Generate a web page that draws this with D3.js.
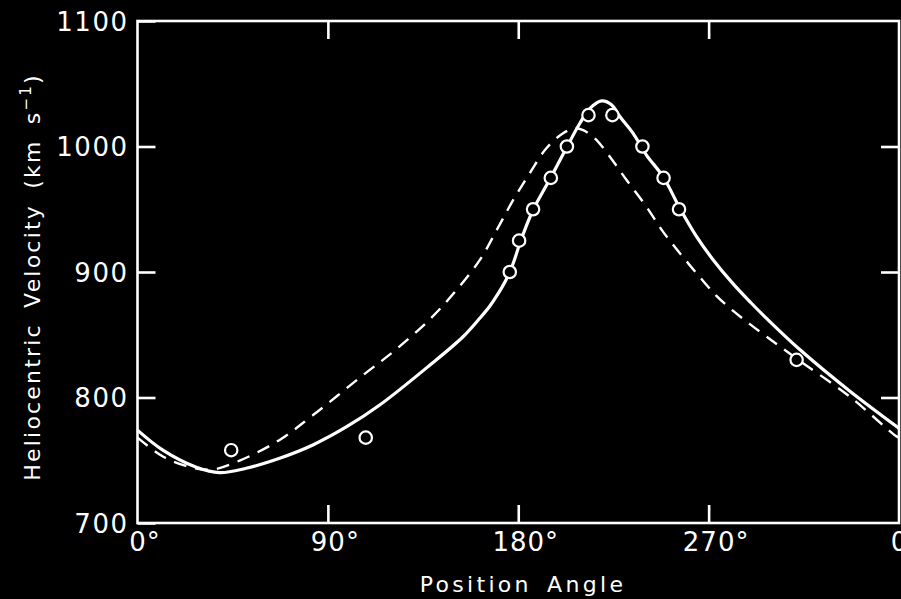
<!DOCTYPE html>
<html>
<head>
<meta charset="utf-8">
<script src="https://cdn.jsdelivr.net/npm/d3@7"></script>
<style>
  html, body { margin: 0; padding: 0; background: #000; }
  svg { display: block; }
  text { font-family: "DejaVu Sans", sans-serif; fill: #fff; }
</style>
</head>
<body>
<svg id="chart" width="901" height="599"></svg>
<script>
// Observed heliocentric velocities against position angle
const obsAngle    = [44.3, 107.9, 176, 180.4, 187, 195.4, 203, 213.2, 224.5, 238.7, 248.7, 256, 311.6];
const obsVelocity = [758, 768, 900, 925, 950, 975, 1000, 1025, 1025, 1000, 975, 950, 830];

// Model curve 1 (solid)
const solidAngle = [0, 12, 27.8, 38.8, 51.4, 67.2, 82.9, 98.7, 114.5, 138, 153.9, 161.9, 166.6, 170.4,
  174.2, 177.5, 181.3, 187, 195.5, 203, 209.2, 213.9, 219.4, 224.2, 228.1, 234.3, 240.6, 248.5, 256.4, 264, 272,
  281.6, 290, 297.4, 313.2, 336.8, 360];
const solidVelocity = [774, 758, 744.4, 740.1, 743.6, 751.6, 762.2, 776.5, 794, 825.5, 848.4, 863.3, 872.9, 882.5,
  893.6, 906.4, 925.5, 949.4, 975.7, 999.6, 1018.7, 1030.3, 1036.3, 1033.1, 1023.7, 1010.5, 993.2, 975.9, 950.8, 929, 910,
  890.5, 875.5, 863, 838, 805, 775.5];

// Model curve 2 (dashed)
const dashAngle = [0, 12, 24, 35, 48, 67, 83, 106, 122, 138, 150, 162, 170, 177.5, 185.4, 193.3, 201.2,
  206.7, 210.7, 216.2, 223.3, 231.2, 240.6, 248.5, 256.4, 265.8, 273.7, 281.6, 289.5, 297.4, 311.6, 336.8, 358, 360];
const dashVelocity = [768, 753, 745, 742.5, 749.5, 766, 786, 817, 838, 862, 884, 910, 934, 957, 978.6, 998.6, 1010.5,
  1014.5, 1013, 1006.5, 991.9, 973.3, 952, 932, 915, 896, 881, 869, 858.5, 848.5, 831, 800.6, 770, 768];

// Axis ticks
const xTicks = [0, 90, 180, 270, 360];
const xTickLabels = ["0", "90", "180", "270", "0"];
const yTicks = [700, 800, 900, 1000, 1100];

const svg = d3.select("#chart");
const W = 901, H = 599;
svg.append("rect").attr("width", W).attr("height", H).attr("fill", "#000");

const plotL = 137.5, plotR = 899, plotT = 21, plotB = 523;
const x = d3.scaleLinear().domain([0, 360]).range([plotL, plotR]);
const y = d3.scaleLinear().domain([700, 1100]).range([plotB, plotT]);

const white = "#fff";
const tickLen = 18;

// Frame
svg.append("rect")
  .attr("x", plotL).attr("y", plotT)
  .attr("width", plotR - plotL).attr("height", plotB - plotT)
  .attr("fill", "none").attr("stroke", white).attr("stroke-width", 2.6);

function styleAxis(g) {
  g.select(".domain").remove();
  g.selectAll(".tick line").attr("stroke", white).attr("stroke-width", 2.6);
}

// Left axis with labels
const yAxisL = svg.append("g")
  .attr("transform", `translate(${plotL},0)`)
  .call(d3.axisLeft(y).tickValues(yTicks).tickSizeInner(-tickLen).tickSizeOuter(0).tickPadding(9)
    .tickFormat(d3.format("d")));
styleAxis(yAxisL);
yAxisL.selectAll(".tick text")
  .attr("font-size", 26).attr("letter-spacing", 1.5).attr("dy", "0.36em")
  .attr("font-family", "DejaVu Sans");

// Right axis ticks
const yAxisR = svg.append("g")
  .attr("transform", `translate(${plotR},0)`)
  .call(d3.axisRight(y).tickValues([800, 900, 1000]).tickSizeInner(-tickLen).tickSizeOuter(0).tickFormat(""));
styleAxis(yAxisR);

// Bottom axis with degree labels (the 360° end repeats as 0°)
const xAxisB = svg.append("g")
  .attr("transform", `translate(0,${plotB})`)
  .call(d3.axisBottom(x).tickValues(xTicks).tickSizeInner(-tickLen).tickSizeOuter(0).tickPadding(10)
    .tickFormat((d, i) => xTickLabels[i]));
styleAxis(xAxisB);
xAxisB.selectAll(".tick line").filter(d => d === 0 || d === 360).remove();
xAxisB.selectAll(".tick text").each(function () {
  const t = d3.select(this)
    .attr("font-size", 26).attr("letter-spacing", 1)
    .attr("font-family", "DejaVu Sans");
  const num = t.text();
  const w = this.getComputedTextLength();
  t.attr("text-anchor", "start").attr("x", -w / 2).text(num + "°");
});

// Top axis ticks
const xAxisT = svg.append("g")
  .attr("transform", `translate(0,${plotT})`)
  .call(d3.axisTop(x).tickValues([90, 180, 270]).tickSizeInner(-tickLen).tickSizeOuter(0).tickFormat(""));
styleAxis(xAxisT);

// Axis titles
svg.append("text")
  .attr("x", 523).attr("y", 592)
  .attr("text-anchor", "middle")
  .attr("font-size", 22).attr("letter-spacing", 3.3).attr("word-spacing", 5)
  .text("Position Angle");

const yTitle = svg.append("text")
  .attr("transform", "translate(40,277) rotate(-90)")
  .attr("text-anchor", "middle")
  .attr("font-size", 22).attr("letter-spacing", 2.2).attr("word-spacing", 6);
yTitle.append("tspan").text("Heliocentric Velocity (km s");
yTitle.append("tspan").attr("dy", -9).attr("font-size", 15).text("−1");
yTitle.append("tspan").attr("dy", 9).text(")");

// Curves
const line = d3.line().x(d => x(d[0])).y(d => y(d[1])).curve(d3.curveCatmullRom.alpha(0.5));
const plot = svg.append("g");
plot.append("path")
  .datum(dashAngle.map((a, i) => [a, dashVelocity[i]]))
  .attr("d", line).attr("fill", "none").attr("stroke", white)
  .attr("stroke-width", 2.4).attr("stroke-dasharray", "13 9");
plot.append("path")
  .datum(solidAngle.map((a, i) => [a, solidVelocity[i]]))
  .attr("d", line).attr("fill", "none").attr("stroke", white)
  .attr("stroke-width", 3.2);

// Observations
plot.selectAll("circle.obs")
  .data(obsAngle.map((a, i) => [a, obsVelocity[i]]))
  .join("circle").attr("class", "obs")
  .attr("cx", d => x(d[0])).attr("cy", d => y(d[1])).attr("r", 6.2)
  .attr("fill", "#000").attr("stroke", white).attr("stroke-width", 2.2);
</script>
</body>
</html>
